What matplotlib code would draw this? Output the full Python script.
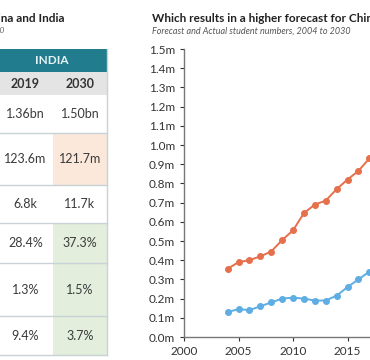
import matplotlib.pyplot as plt
from matplotlib.patches import Rectangle

plt.rcParams['font.family'] = ['Lato', 'DejaVu Sans']

# chart data
years = list(range(2004, 2021))
forecast = [0.355, 0.39, 0.40, 0.42, 0.445, 0.505, 0.555, 0.645, 0.69, 0.71,
            0.77, 0.82, 0.865, 0.93, 1.00, 1.07, 1.14]
actual = [0.13, 0.145, 0.14, 0.16, 0.18, 0.20, 0.205, 0.20, 0.19, 0.19,
          0.215, 0.26, 0.30, 0.34, 0.38, 0.42, 0.46]
y_ticks = [i / 10 for i in range(16)]
x_ticks = [2000, 2005, 2010, 2015, 2020, 2025, 2030]

# table data (India columns)
col_labels = ['2019', '2030']
india_2019 = ['1.36bn', '123.6m', '6.8k', '28.4%', '1.3%', '9.4%']
india_2030 = ['1.50bn', '121.7m', '11.7k', '37.3%', '1.5%', '3.7%']
highlight_2030 = [None, 'orange', None, 'green', 'green', 'green']

# table layout in pixels
row_edges = [95, 133, 185, 223, 263, 316, 355]
col_edges = [-2, 53, 107]
fills = {'orange': '#fce8db', 'green': '#e3eedd'}

fig = plt.figure(figsize=(3.7, 3.6), dpi=100)

# table drawn in a pixel-coordinate axes
tx = fig.add_axes([0, 0, 1, 1])
tx.set_xlim(0, 370)
tx.set_ylim(360, 0)
tx.axis('off')

tx.text(64, 18, 'Key statistics for China and India', ha='right', va='center',
        fontsize=8.5, fontweight='bold', color='#222222')
tx.text(4, 30, 'Population and education, 2019 and 2030', ha='right', va='center',
        fontsize=6, style='italic', color='#666666')

tx.add_patch(Rectangle((col_edges[0], 49), col_edges[2] - col_edges[0], 23,
                       facecolor='#217d8e', edgecolor='none'))
tx.text((col_edges[0] + col_edges[2]) / 2 - 1, 60.5, 'INDIA', ha='center', va='center',
        fontsize=8.5, fontweight='bold', color='#e8f4f6')
tx.add_patch(Rectangle((col_edges[0], 72), col_edges[2] - col_edges[0], 23,
                       facecolor='#e4e4e4', edgecolor='none'))
for j, lab in enumerate(col_labels):
    cx = (col_edges[j] + col_edges[j + 1]) / 2
    tx.text(cx, 84, lab, ha='center', va='center', fontsize=9,
            fontweight='bold', color='#333333')

for i in range(len(india_2019)):
    top, bot = row_edges[i], row_edges[i + 1]
    if highlight_2030[i]:
        tx.add_patch(Rectangle((col_edges[1], top), col_edges[2] - col_edges[1], bot - top,
                               facecolor=fills[highlight_2030[i]], edgecolor='none'))
    cy = (top + bot) / 2
    for j, vals in enumerate([india_2019, india_2030]):
        cx = (col_edges[j] + col_edges[j + 1]) / 2
        tx.text(cx, cy, vals[i], ha='center', va='center', fontsize=9, color='#3a3a3a')
    tx.plot([col_edges[0], col_edges[2]], [bot, bot], color='#c7d3d6', lw=1)
tx.plot([col_edges[2], col_edges[2]], [49, row_edges[-1]], color='#c7d3d6', lw=1)

# chart titles (cut off at the right edge, as in the crop)
tx.text(152, 18, 'Which results in a higher forecast for China?', ha='left', va='center',
        fontsize=8.5, fontweight='bold', color='#222222')
tx.text(152, 31, 'Forecast and Actual student numbers, 2004 to 2030', ha='left',
        va='center', fontsize=6.5, style='italic', color='#555555')

# line chart, extends past the right edge like the crop
ax = fig.add_axes([184 / 370, 23 / 360, 327 / 370, 288 / 360])
ax.plot(years, forecast, color='#e6704c', marker='o', ms=4, lw=1.4)
ax.plot(years, actual, color='#5eaee3', marker='o', ms=4, lw=1.4)
ax.set_xlim(2000, 2030)
ax.set_ylim(0, 1.5)
ax.set_yticks(y_ticks)
ax.set_yticklabels([f'{v:.1f}m' for v in y_ticks])
ax.set_xticks(x_ticks)
ax.tick_params(labelsize=8.5, colors='#333333', length=3, width=0.8)
for s in ['top', 'right']:
    ax.spines[s].set_visible(False)
for s in ['left', 'bottom']:
    ax.spines[s].set_color('#777777')
    ax.spines[s].set_linewidth(1)

fig.savefig('out.png', dpi=100)
